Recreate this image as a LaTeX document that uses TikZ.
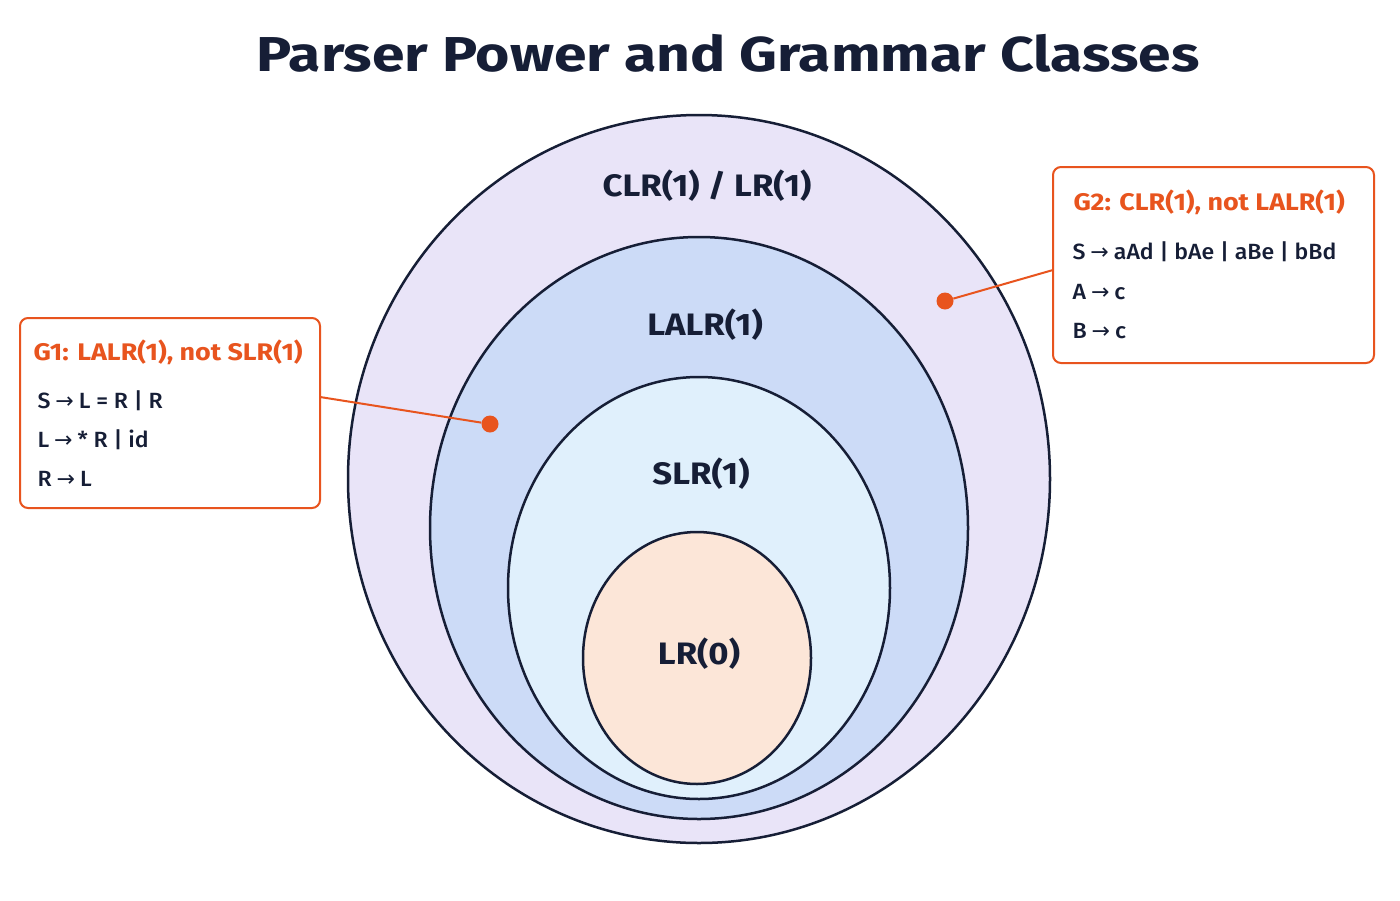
\documentclass[tikz,border=0pt]{standalone}
\usepackage{fontspec}
\setmainfont{Fira Sans}[FakeStretch=1.12]
\newfontfamily\widef{Fira Sans}[FakeStretch=1.2]
\newfontfamily\medf{Fira Sans Medium}[FakeStretch=1.05]
\newfontfamily\arr{DejaVu Sans}
\definecolor{edge}{HTML}{161E36}
\definecolor{acc}{HTML}{E8541E}
\definecolor{c1}{HTML}{E9E4F8}\definecolor{c2}{HTML}{CCDBF7}\definecolor{c3}{HTML}{E0F0FC}\definecolor{c4}{HTML}{FCE6D8}
\newcommand{\ar}{\hspace{5pt}{\arr →}\hspace{5pt}}
\begin{document}
\begin{tikzpicture}[x=1pt,y=-1pt,
  ell/.style={draw=edge,line width=2.5pt},
  lab/.style={font=\fontsize{31}{34}\selectfont\bfseries,text=edge},
  box/.style={draw=acc,line width=2pt,rounded corners=8pt,fill=white},
  bt/.style={font=\fontsize{24}{26}\selectfont\bfseries,text=acc,anchor=west},
  bl/.style={font=\medf\fontsize{22}{24}\selectfont,text=edge,anchor=west},
  dot/.style={circle,fill=acc,inner sep=0pt,minimum size=17pt}]
\useasboundingbox[fill=white] (0,0) rectangle (1400,900);
\node[font=\widef\fontsize{49}{52}\selectfont\bfseries,text=edge] (title) at (728,53) {Parser Power and Grammar Classes};
\draw[ell,fill=c1] (699,479) ellipse [x radius=351,y radius=364];
\draw[ell,fill=c2] (699,528) ellipse [x radius=269,y radius=291];
\draw[ell,fill=c3] (699,588) ellipse [x radius=191,y radius=211];
\draw[ell,fill=c4] (697,658) ellipse [x radius=114,y radius=126];
\node[lab] (l1) at (707,186) {CLR(1) / LR(1)};
\node[lab] (l2) at (705,325) {LALR(1)};
\node[lab] (l3) at (701,474) {SLR(1)};
\node[lab] (l4) at (699,654) {LR(0)};
% G1
\node[box,minimum width=300pt,minimum height=190pt] (g1) at (170,413) {};
\node[bt] (g1t) at (30,352) {G1: LALR(1), not SLR(1)};
\node[bl] (g1a) at (34,401) {S\ar L = R | R};
\node[bl] (g1b) at (34,440) {L\ar * R | id};
\node[bl] (g1c) at (34,479) {R\ar L};
\node[dot] (d1) at (490,424) {};
\coordinate (e1) at (320,397);
\draw[acc,line width=2pt] (e1) -- (d1);
% G2
\node[box,minimum width=321pt,minimum height=196pt] (g2) at (1213.5,265) {};
\node[bt] (g2t) at (1070,202) {G2: CLR(1), not LALR(1)};
\node[bl] (g2a) at (1069,252) {S\ar aAd | bAe | aBe | bBd};
\node[bl] (g2b) at (1069,292) {A\ar c};
\node[bl] (g2c) at (1069,331) {B\ar c};
\node[dot] (d2) at (945,301) {};
\coordinate (e2) at (1053,270);
\draw[acc,line width=2pt] (e2) -- (d2);
\end{tikzpicture}
\end{document}
